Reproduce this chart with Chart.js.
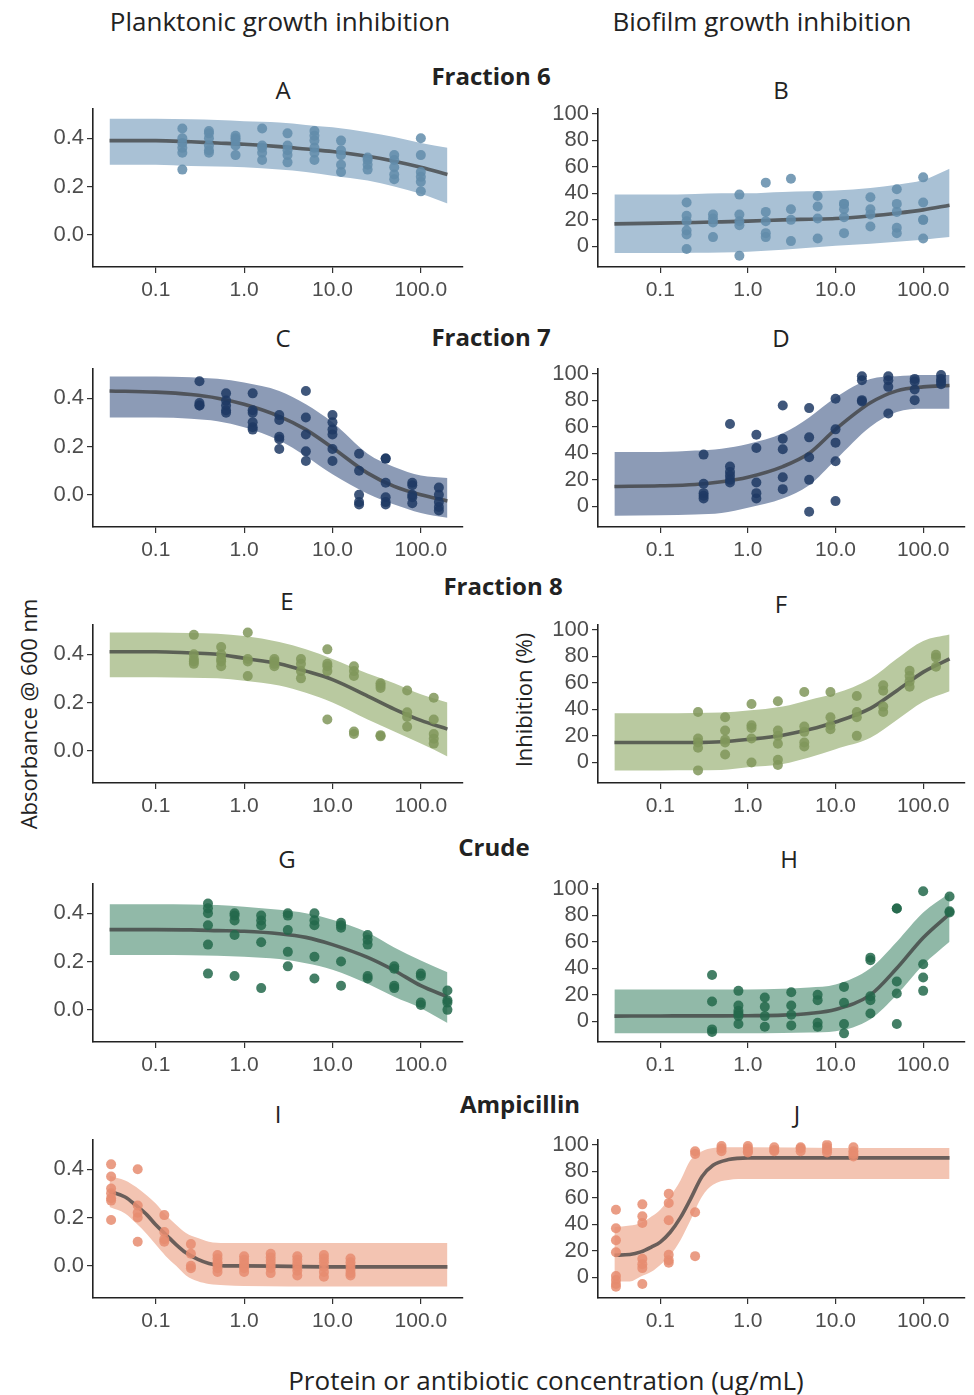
<!DOCTYPE html>
<html>
<head>
<meta charset="utf-8">
<script src="https://cdn.jsdelivr.net/npm/chart.js@4.4.0/dist/chart.umd.min.js"></script>
<style>
  body { margin: 0; background: #fff; width: 974px; height: 1395px; position: relative; overflow: hidden; font-family: "Open Sans", sans-serif; color: #222; }
  .lbl { position: absolute; transform: translate(-50%, -50%); white-space: nowrap; }
  .hd { font-size: 26px; }
  .row { font-size: 24px; font-weight: bold; }
  .pl { font-size: 24px; }
  .yt { font-size: 22px; transform: translate(-50%, -50%) rotate(-90deg); }
  canvas { position: absolute; }
</style>
</head>
<body>
<div class="lbl hd" style="left:280px;top:21px">Planktonic growth inhibition</div>
<div class="lbl hd" style="left:762px;top:21px">Biofilm growth inhibition</div>

<div class="lbl row" style="left:491px;top:75px">Fraction 6</div>
<div class="lbl row" style="left:491px;top:336px">Fraction 7</div>
<div class="lbl row" style="left:503px;top:585px">Fraction 8</div>
<div class="lbl row" style="left:494px;top:846px">Crude</div>
<div class="lbl row" style="left:520px;top:1103px">Ampicillin</div>

<div class="lbl pl" style="left:283px;top:89px">A</div>
<div class="lbl pl" style="left:781px;top:89px">B</div>
<div class="lbl pl" style="left:283px;top:337px">C</div>
<div class="lbl pl" style="left:781px;top:337px">D</div>
<div class="lbl pl" style="left:287px;top:600px">E</div>
<div class="lbl pl" style="left:781px;top:603px">F</div>
<div class="lbl pl" style="left:287px;top:858px">G</div>
<div class="lbl pl" style="left:789px;top:858px">H</div>
<div class="lbl pl" style="left:278px;top:1113px">I</div>
<div class="lbl pl" style="left:797px;top:1113px">J</div>

<div class="lbl yt" style="left:28px;top:714px">Absorbance @ 600 nm</div>
<div class="lbl yt" style="left:523px;top:700px">Inhibition (%)</div>
<div class="lbl hd" style="left:546px;top:1380px">Protein or antibiotic concentration (ug/mL)</div>

<script>
// tick values
const xTicks = [0.1, 1, 10, 100];
const absTicks = [0, 0.2, 0.4];
const inhTicks = [0, 20, 40, 60, 80, 100];

// x positions where the fitted curve and its band were read
const fitX = [0.03, 0.1, 0.25, 0.5, 1, 2.5, 5, 10, 25, 50, 100, 200];
const ampX = [0.03, 0.045, 0.06, 0.08, 0.1, 0.13, 0.17, 0.22, 0.3, 0.4, 0.6, 1, 10, 200];

// Fraction 6
const doseA = [0.2, 0.4, 0.8, 1.6, 3.1, 6.25, 12.5, 25, 50, 100];
const ptsA = [[0.44,0.40,0.38,0.36,0.34,0.27],[0.43,0.42,0.40,0.37,0.35,0.34],[0.41,0.40,0.39,0.37,0.33],[0.44,0.37,0.36,0.34,0.31],[0.42,0.37,0.35,0.33,0.30],[0.43,0.41,0.39,0.36,0.34,0.31],[0.39,0.35,0.33,0.29,0.26],[0.32,0.31,0.29,0.27],[0.33,0.31,0.28,0.25,0.23],[0.40,0.33,0.26,0.24,0.22,0.18]];
const fitA = [0.39,0.39,0.385,0.38,0.375,0.365,0.355,0.345,0.325,0.305,0.28,0.25];
const hiA = [0.48,0.48,0.478,0.475,0.47,0.465,0.455,0.445,0.425,0.405,0.38,0.36];
const loA = [0.29,0.29,0.285,0.283,0.28,0.27,0.26,0.245,0.225,0.2,0.17,0.13];
const ptsB = [[33,23,19,12,9,-2],[24,21,18,7],[39,24,19,16,-7],[48,26,19,10,7],[51,28,20,4],[38,30,21,6],[32,32,28,22,10],[37,28,24,15],[43,32,26,14,10],[52,33,20,20,6]];
const fitB = [17,17.5,18,18.5,19,20,20.5,21,23,25,27.5,31];
const hiB = [39,39,39.5,40,40,41,41.5,42,44,46.5,50,58.5];
const loB = [-5,-5,-4.8,-4.5,-4,-2.5,-1,0.5,2,3.5,5,7];

// Fraction 7
const doseC = [0.3125, 0.625, 1.25, 2.5, 5, 10, 20, 40, 80, 160];
const ptsC = [[0.47,0.38,0.37,0.37],[0.42,0.39,0.37,0.35,0.34],[0.42,0.35,0.34,0.30,0.28,0.27],[0.33,0.31,0.24,0.23,0.19],[0.43,0.32,0.25,0.18,0.14],[0.33,0.30,0.27,0.25,0.19,0.14],[0.17,0.10,0.0,-0.03,-0.04],[0.15,0.15,0.05,-0.01,-0.03,-0.04],[0.05,0.04,0.0,-0.01,-0.035],[0.03,0.0,-0.03,-0.05,-0.065]];
const fitC = [0.43,0.425,0.415,0.40,0.375,0.325,0.27,0.195,0.09,0.035,0.0,-0.025];
const hiC = [0.49,0.49,0.487,0.48,0.465,0.43,0.375,0.30,0.17,0.115,0.08,0.07];
const loC = [0.32,0.32,0.315,0.305,0.28,0.225,0.16,0.085,0.005,-0.04,-0.075,-0.095];
const ptsD = [[39,17,10,8,6],[62,30,26,23,20,18],[54,44,18,10,6],[76,51,43,22,13],[74,52,37,20,-4],[81,58,48,34,4],[98,95,80,79],[98,95,90,70],[96,94,88,80],[99,96,94,92]];
const fitD = [15,15.5,16.5,18.5,22,30,40,58,78,87,90,91];
const hiD = [41,41,42,43.5,47,55,67,82,96,98,99,99];
const loD = [-7,-6.7,-6,-5,-1,6,16,35,60,71,73.5,73.5];

// Fraction 8
const doseE = [0.27, 0.55, 1.1, 2.2, 4.4, 8.75, 17.5, 35, 70, 140];
const ptsE = [[0.48,0.40,0.38,0.37,0.36],[0.43,0.40,0.38,0.37,0.35],[0.49,0.38,0.37,0.31],[0.38,0.37,0.36,0.35],[0.38,0.36,0.33,0.30],[0.42,0.36,0.35,0.33,0.13],[0.35,0.33,0.31,0.08,0.07],[0.28,0.27,0.26,0.065,0.06],[0.25,0.16,0.14,0.10],[0.22,0.13,0.07,0.05,0.03]];
const fitE = [0.41,0.41,0.405,0.40,0.383,0.36,0.33,0.295,0.227,0.173,0.126,0.09];
const hiE = [0.49,0.49,0.488,0.485,0.475,0.45,0.42,0.38,0.32,0.28,0.234,0.2];
const loE = [0.305,0.305,0.303,0.30,0.29,0.27,0.24,0.20,0.13,0.08,0.03,-0.023];
const ptsF = [[38,18,15,11,-6],[34,24,17,15,6],[44,28,26,18,0],[46,24,20,14,2,-2],[53,27,23,15,12],[53,34,28,25],[50,38,34,20],[58,54,42,38],[69,65,61,57],[81,79,72]];
const fitF = [15,15,15,15.5,17.3,20.5,24.7,30.4,40.7,54,68,78];
const hiF = [37,37,37.2,37.5,39,42,47,52,63,78,91.4,96.3];
const loF = [-6,-6,-5.9,-5.7,-3.7,-1.2,3.7,10,18.5,32,45.7,53.6];

// Crude
const doseG = [0.39, 0.78, 1.56, 3.125, 6.25, 12.5, 25, 50, 100, 200];
const ptsG = [[0.44,0.42,0.40,0.35,0.27,0.15],[0.40,0.39,0.37,0.31,0.14],[0.39,0.37,0.35,0.28,0.09],[0.40,0.39,0.33,0.24,0.18],[0.40,0.37,0.35,0.22,0.13],[0.36,0.35,0.34,0.20,0.10],[0.31,0.29,0.27,0.14,0.13],[0.18,0.17,0.10,0.09],[0.15,0.14,0.03,0.02],[0.08,0.04,0.03,0.0]];
const fitG = [0.332,0.332,0.331,0.328,0.325,0.315,0.30,0.27,0.217,0.163,0.10,0.054];
const hiG = [0.437,0.437,0.436,0.434,0.427,0.414,0.40,0.373,0.32,0.258,0.204,0.156];
const loG = [0.227,0.227,0.226,0.224,0.22,0.21,0.193,0.166,0.108,0.054,0.007,-0.054];
const ptsH = [[35,15,-6,-8],[23,12,8,6,4,-2],[18,11,4,-4],[22,12,5,-3],[20,16,-1,-4],[26,14,-2,-9],[48,46,19,16,6],[85,85,30,21,-2],[98,43,33,23],[94,83,82]];
const fitH = [4,4.1,4.2,4.2,4.3,4.7,6,9,20,40,63,81];
const hiH = [24,24,24,24,24,24.5,25.5,27.7,40,60,82,96.5];
const loH = [-9,-9,-9,-9,-9,-8.8,-8.4,-7.4,1.7,20,42.6,60];

// Ampicillin
const doseI = [0.03125, 0.0625, 0.125, 0.25, 0.5, 1, 2, 4, 8, 16];
const ptsI = [[0.42,0.37,0.32,0.30,0.28,0.27,0.19],[0.40,0.25,0.22,0.20,0.10],[0.21,0.14,0.11,0.10],[0.09,0.05,0.0,-0.01],[0.045,0.03,0.015,0.005,-0.01,-0.025],[0.04,0.025,0.01,0.0,-0.01,-0.025],[0.05,0.035,0.02,0.005,-0.01,-0.03],[0.04,0.025,0.01,-0.005,-0.02,-0.04],[0.045,0.03,0.015,-0.005,-0.025,-0.045],[0.03,0.015,0.0,-0.015,-0.03,-0.04]];
const fitI = [0.308,0.285,0.25,0.21,0.17,0.13,0.088,0.054,0.027,0.01,0.0,0.0,-0.004,-0.004];
const hiI = [0.373,0.353,0.326,0.29,0.258,0.21,0.17,0.136,0.115,0.10,0.095,0.095,0.095,0.095];
const loI = [0.244,0.217,0.176,0.13,0.088,0.04,0.0,-0.04,-0.064,-0.075,-0.08,-0.083,-0.085,-0.085];
const ptsJ = [[51,37,28,19,1,-2,-5,-7],[55,46,41,14,10,7,-5],[63,56,43,17,13,11],[95,93,49,16],[99,97,95],[99,97,95,94],[98,96,95],[98,97,95],[100,98,96,94],[98,95,93,91]];
const fitJ = [16.7,17.2,19.2,23,26.6,34,45,58.6,76,84.5,88.7,90,90,90];
const hiJ = [37.7,39,41,46,51,61,73,88,95,97.5,98,98,97.5,97.5];
const loJ = [-3,-3,0.7,4.4,9.4,16.7,28,42.6,61,69.7,73.4,74,74,74];

const colours = {
  f6: { band: '#a9c1d5', pt: 'rgba(98,140,170,0.85)' },
  f7: { band: '#8c9bb6', pt: 'rgba(30,58,100,0.85)' },
  f8: { band: '#b9c9a0', pt: 'rgba(128,150,90,0.85)' },
  crude: { band: '#91b9a8', pt: 'rgba(35,105,75,0.85)' },
  amp: { band: '#f3c4b2', pt: 'rgba(230,140,112,0.85)' }
};

const rowTops = [107, 367, 623, 882, 1138];
const plotH = 160;

function xy(xs, ys) {
  return xs.map((x, i) => ({ x: x, y: ys[i] }));
}

function makePanel(col, row, dose, pts, fx, fit, hi, lo, colour) {
  const left = col === 0;
  const axisX = left ? 93 : 598;
  const rightEnd = left ? 468 : 970;
  const padTop = 14;
  const c = document.createElement('canvas');
  c.width = rightEnd - (axisX - 60);
  c.height = padTop + plotH + 44;
  c.style.left = (axisX - 60) + 'px';
  c.style.top = (rowTops[row] - padTop) + 'px';
  document.body.appendChild(c);

  const points = [];
  dose.forEach((d, i) => pts[i].forEach(v => points.push({ x: d, y: v })));

  new Chart(c, {
    type: 'line',
    data: {
      datasets: [
        { data: points, showLine: false, pointRadius: 5, pointBorderWidth: 0,
          pointBackgroundColor: colour.pt, order: 0 },
        { data: xy(fx, fit), borderColor: 'rgba(60,60,60,0.75)', borderWidth: 3.6,
          pointRadius: 0, cubicInterpolationMode: 'monotone', fill: false, order: 1 },
        { data: xy(fx, lo), borderWidth: 0, pointRadius: 0,
          cubicInterpolationMode: 'monotone', fill: false, order: 2 },
        { data: xy(fx, hi), borderWidth: 0, pointRadius: 0, backgroundColor: colour.band,
          cubicInterpolationMode: 'monotone', fill: 2, order: 3 }
      ]
    },
    options: {
      responsive: false,
      animation: false,
      devicePixelRatio: 1,
      layout: { padding: { top: padTop, right: 0, bottom: 0, left: 0 } },
      plugins: { legend: { display: false }, tooltip: { enabled: false } },
      scales: {
        x: {
          type: 'logarithmic', min: 0.0195, max: 300,
          afterBuildTicks: s => { s.ticks = xTicks.map(v => ({ value: v })); },
          afterFit: s => { s.height = 44; },
          ticks: { callback: v => Number(v).toFixed(1), font: { family: 'Liberation Sans', size: 21 },
                   color: '#4d4d4d', padding: 5, maxRotation: 0, autoSkip: false },
          grid: { display: true, drawOnChartArea: false, drawTicks: true, tickLength: 6,
                  color: '#333', lineWidth: 1.2 },
          border: { display: true, color: '#222', width: 1.6 }
        },
        y: {
          min: left ? -0.133 : -15.5,
          max: left ? 0.52 : 103.3,
          afterBuildTicks: s => { s.ticks = (left ? absTicks : inhTicks).map(v => ({ value: v })); },
          afterFit: s => { s.width = 60; },
          ticks: { callback: v => left ? Number(v).toFixed(1) : String(v),
                   font: { family: 'Liberation Sans', size: 22 }, color: '#4d4d4d', padding: 3 },
          grid: { display: true, drawOnChartArea: false, drawTicks: true, tickLength: 6,
                  color: '#333', lineWidth: 1.2 },
          border: { display: true, color: '#222', width: 1.6 }
        }
      }
    }
  });
}

makePanel(0, 0, doseA, ptsA, fitX, fitA, hiA, loA, colours.f6);
makePanel(1, 0, doseA, ptsB, fitX, fitB, hiB, loB, colours.f6);
makePanel(0, 1, doseC, ptsC, fitX, fitC, hiC, loC, colours.f7);
makePanel(1, 1, doseC, ptsD, fitX, fitD, hiD, loD, colours.f7);
makePanel(0, 2, doseE, ptsE, fitX, fitE, hiE, loE, colours.f8);
makePanel(1, 2, doseE, ptsF, fitX, fitF, hiF, loF, colours.f8);
makePanel(0, 3, doseG, ptsG, fitX, fitG, hiG, loG, colours.crude);
makePanel(1, 3, doseG, ptsH, fitX, fitH, hiH, loH, colours.crude);
makePanel(0, 4, doseI, ptsI, ampX, fitI, hiI, loI, colours.amp);
makePanel(1, 4, doseI, ptsJ, ampX, fitJ, hiJ, loJ, colours.amp);
</script>
</body>
</html>
